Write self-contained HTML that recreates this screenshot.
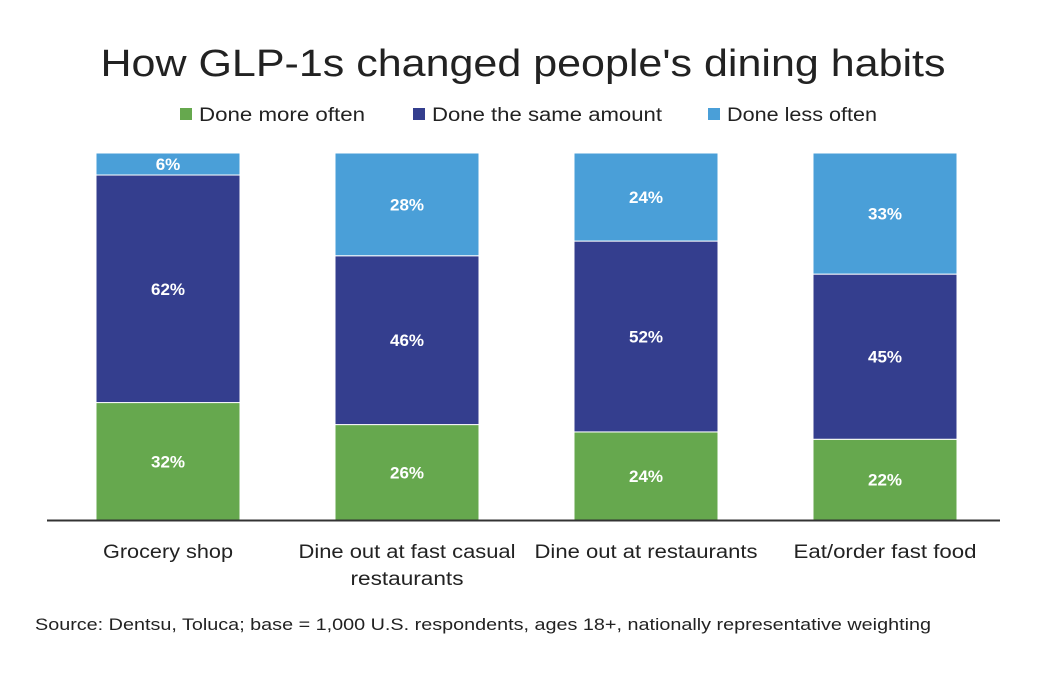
<!DOCTYPE html>
<html><head><meta charset="utf-8"><style>
html,body{margin:0;padding:0;background:#fff;}
body{width:1046px;height:674px;overflow:hidden;font-family:"Liberation Sans","DejaVu Sans",sans-serif;}
</style></head><body>
<svg id="chart" width="1046" height="674" xmlns="http://www.w3.org/2000/svg">
<text x="523" y="76" text-anchor="middle" font-size="38" fill="#222" textLength="845" lengthAdjust="spacingAndGlyphs">How GLP-1s changed people's dining habits</text>
<g id="legend"></g>
<g id="bars"></g>
<line x1="47" y1="520.5" x2="1000" y2="520.5" stroke="#333" stroke-width="2"/>
<g id="xlabels"></g>
<text x="35" y="630" font-size="16.5" fill="#222" textLength="896" lengthAdjust="spacingAndGlyphs">Source: Dentsu, Toluca; base = 1,000 U.S. respondents, ages 18+, nationally representative weighting</text>
</svg>
<script>
const categories=[["Grocery shop"],["Dine out at fast casual","restaurants"],["Dine out at restaurants"],["Eat/order fast food"]];
const seriesNames=["Done more often","Done the same amount","Done less often"];
const moreOften=[32,26,24,22];
const sameAmount=[62,46,52,45];
const lessOften=[6,28,24,33];
const series=[moreOften,sameAmount,lessOften];
const colors=["#66a84e","#343e8e","#4a9fd8"];
const NS="http://www.w3.org/2000/svg";
const y0=520,yTop=153;
const yScale=v=>(y0-yTop)*v/100;
const bw=144;
const xPos=i=>96+i*239;
const labelW=[[130],[217,113],[223],[183]];
function mk(t,a,p){const e=document.createElementNS(NS,t);for(const k in a)e.setAttribute(k,a[k]);p.appendChild(e);return e;}
const bars=document.getElementById('bars');
categories.forEach((c,i)=>{
  let acc=0;
  series.forEach((s,j)=>{
    const v=s[i];
    const top=y0-yScale(acc+v), h=yScale(v);
    const r=mk('rect',{x:xPos(i),y:top,width:bw,height:h,fill:colors[j],stroke:'#fff','stroke-width':1},bars);
    
    
    const t=mk('text',{x:xPos(i)+bw/2,y:top+h/2+6,'text-anchor':'middle','font-size':17,'font-weight':'bold',fill:'#fff'},bars);
    
    
    t.textContent=v+'%';
    acc+=v;
  });
  const xl=document.getElementById('xlabels');
  c.forEach((line,k)=>{
    const w=(labelW[i]&&labelW[i][k])||line.length*9.5;
    const t=mk('text',{x:xPos(i)+bw/2,y:558+k*27,'text-anchor':'middle','font-size':19,fill:'#222',textLength:w,lengthAdjust:'spacingAndGlyphs'},xl);
    
    
    t.textContent=line;
  });
});
const lg=document.getElementById('legend');
const lx=[180,413,708];
const lw=[166,230,150];
seriesNames.forEach((n,j)=>{
  const r=mk('rect',{x:lx[j],y:108,width:12,height:12,fill:colors[j]},lg);
  
  
  const t=mk('text',{x:lx[j]+19,y:121,'font-size':19,fill:'#222',textLength:lw[j],lengthAdjust:'spacingAndGlyphs'},lg);
  
  
  t.textContent=n;
});
</script>
</body></html>
